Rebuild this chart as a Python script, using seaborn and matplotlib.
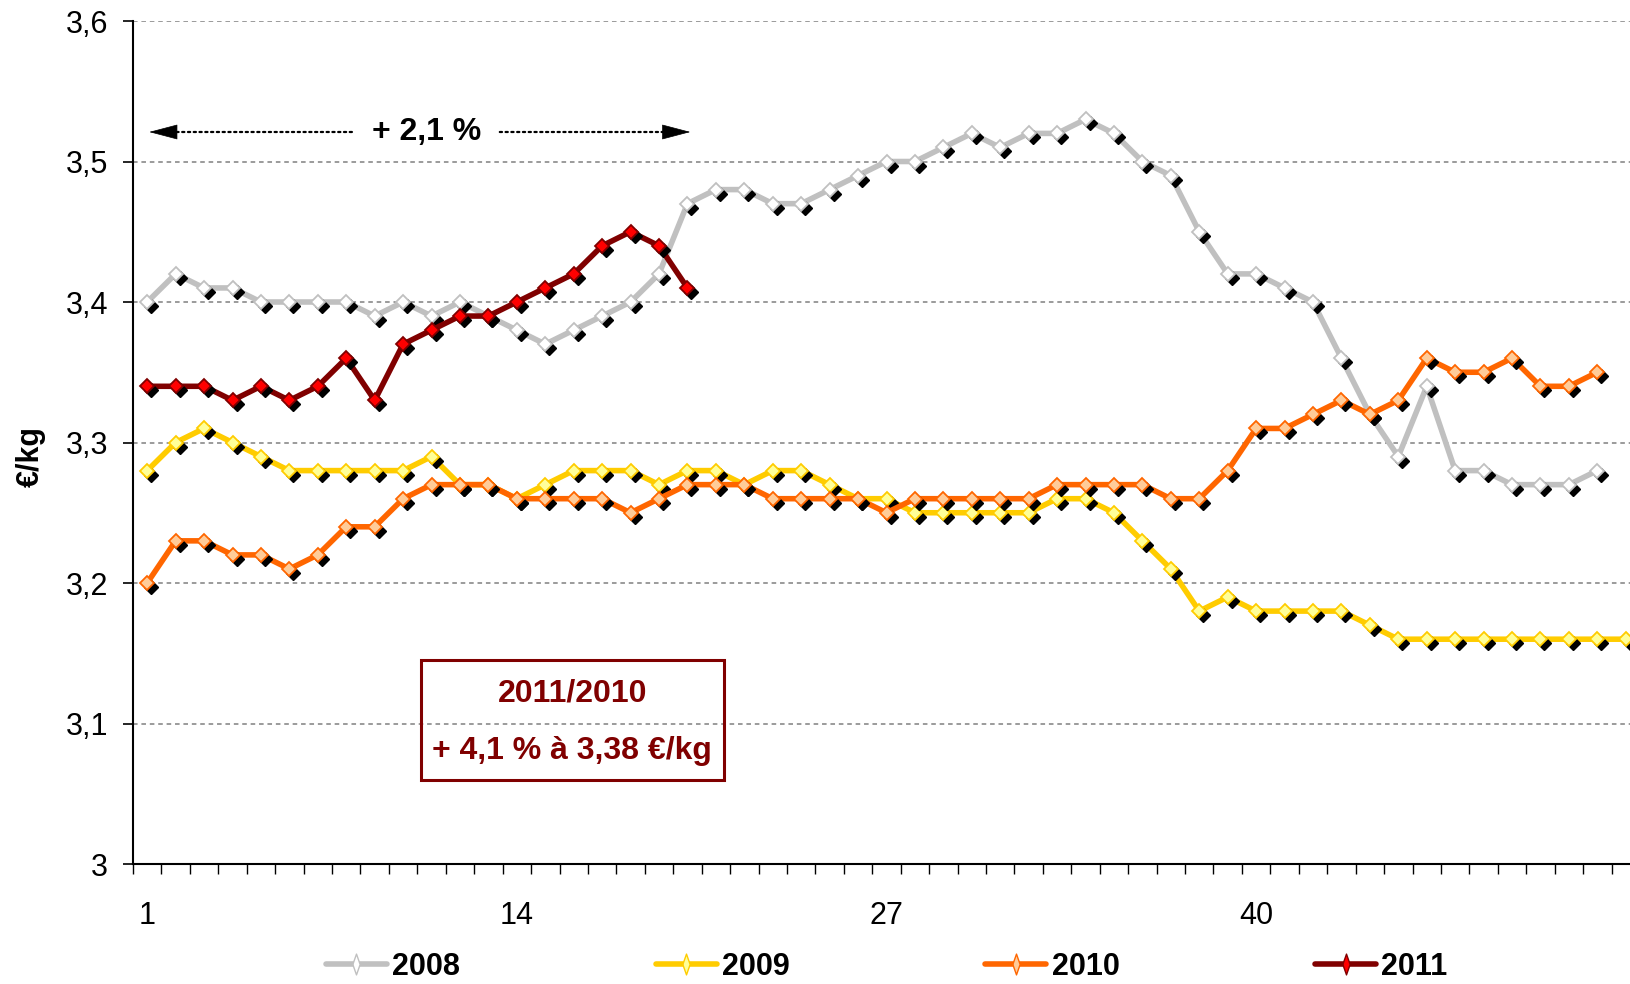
import numpy as np
import pandas as pd
import seaborn as sns
import matplotlib.pyplot as plt
from matplotlib.lines import Line2D
from matplotlib.patches import Rectangle
from matplotlib.transforms import offset_copy

# weekly price, EUR/kg
years = ['2008', '2009', '2010', '2011']

prix_2008 = [3.40, 3.42, 3.41, 3.41, 3.40, 3.40, 3.40, 3.40, 3.39, 3.40,
             3.39, 3.40, 3.39, 3.38, 3.37, 3.38, 3.39, 3.40, 3.42, 3.47,
             3.48, 3.48, 3.47, 3.47, 3.48, 3.49, 3.50, 3.50, 3.51, 3.52,
             3.51, 3.52, 3.52, 3.53, 3.52, 3.50, 3.49, 3.45, 3.42, 3.42,
             3.41, 3.40, 3.36, 3.32, 3.29, 3.34, 3.28, 3.28, 3.27, 3.27,
             3.27, 3.28]
prix_2009 = [3.28, 3.30, 3.31, 3.30, 3.29, 3.28, 3.28, 3.28, 3.28, 3.28,
             3.29, 3.27, 3.27, 3.26, 3.27, 3.28, 3.28, 3.28, 3.27, 3.28,
             3.28, 3.27, 3.28, 3.28, 3.27, 3.26, 3.26, 3.25, 3.25, 3.25,
             3.25, 3.25, 3.26, 3.26, 3.25, 3.23, 3.21, 3.18, 3.19, 3.18,
             3.18, 3.18, 3.18, 3.17, 3.16, 3.16, 3.16, 3.16, 3.16, 3.16,
             3.16, 3.16, 3.16]
prix_2010 = [3.20, 3.23, 3.23, 3.22, 3.22, 3.21, 3.22, 3.24, 3.24, 3.26,
             3.27, 3.27, 3.27, 3.26, 3.26, 3.26, 3.26, 3.25, 3.26, 3.27,
             3.27, 3.27, 3.26, 3.26, 3.26, 3.26, 3.25, 3.26, 3.26, 3.26,
             3.26, 3.26, 3.27, 3.27, 3.27, 3.27, 3.26, 3.26, 3.28, 3.31,
             3.31, 3.32, 3.33, 3.32, 3.33, 3.36, 3.35, 3.35, 3.36, 3.34,
             3.34, 3.35]
prix_2011 = [3.34, 3.34, 3.34, 3.33, 3.34, 3.33, 3.34, 3.36, 3.33, 3.37,
             3.38, 3.39, 3.39, 3.40, 3.41, 3.42, 3.44, 3.45, 3.44, 3.41]

series = [prix_2008, prix_2009, prix_2010, prix_2011]
line_colors = ['#C0C0C0', '#FFCC00', '#FF6600', '#800000']
face_colors = ['#FFFFFF', '#FFFF99', '#FFCC99', '#FF0000']

yticks = [3.0, 3.1, 3.2, 3.3, 3.4, 3.5, 3.6]
xlabels = [1, 14, 27, 40]

sns.set_style('white')
plt.rcParams['font.family'] = ['Liberation Sans', 'DejaVu Sans']
for k in ['text.color', 'axes.labelcolor', 'xtick.color', 'ytick.color']:
    plt.rcParams[k] = 'black'

fig = plt.figure(figsize=(16.3, 9.84), dpi=100)
ax = fig.add_axes([133 / 1630, 1 - 864 / 984, 1507 / 1630, 843 / 984])

shadow = offset_copy(ax.transData, fig=fig, x=4, y=-4, units='dots')

for i, (yr, vals) in enumerate(zip(years, series)):
    df = pd.DataFrame({'semaine': np.arange(1, len(vals) + 1), 'prix': vals})
    z = 3 + i
    sns.lineplot(data=df, x='semaine', y='prix', color=line_colors[i],
                 linewidth=4.0, ax=ax, zorder=z, legend=False)
    ax.plot(df.semaine, df.prix, ls='none', marker='D', ms=7.5,
            color='black', transform=shadow, zorder=z + 0.1)
    ax.plot(df.semaine, df.prix, ls='none', marker='D', ms=7.5,
            mfc=face_colors[i], mec=line_colors[i], mew=1.3, zorder=z + 0.2)

ax.set_xlim(0.5, 53.5)
ax.set_ylim(3.0, 3.6)
ax.set_yticks(yticks)
ax.set_yticklabels([('%g' % v).replace('.', ',') for v in yticks])
ax.set_xticks(np.arange(0.5, 54, 1))
ax.set_xticklabels([])
ax.set_xticks(xlabels, minor=True)
ax.set_xticklabels([str(v) for v in xlabels], minor=True)
ax.tick_params(axis='y', direction='out', length=7, width=1.2,
               labelsize=22, pad=11, left=True)
ax.tick_params(axis='x', which='major', direction='out', length=7,
               width=1.0, bottom=True)
ax.tick_params(axis='x', which='minor', length=0, labelsize=22, pad=27)
ax.set_xlabel('')
ax.set_ylabel('€/kg', fontsize=22, fontweight='bold')
ax.yaxis.set_label_coords(-0.058, 0.483)

ax.set_axisbelow(True)
ax.yaxis.grid(True, linestyle=(0, (3, 2.5)), color='#808080', lw=1.1)
ax.xaxis.grid(False)
sns.despine(ax=ax)
for s in ['left', 'bottom']:
    ax.spines[s].set_linewidth(1.5)
    ax.spines[s].set_color('black')

# +2,1 % arrow: dotted shaft + solid head
ax.text(10.83, 3.521, '+ 2,1 %', ha='center', va='center',
        fontsize=23, fontweight='bold')
dots = dict(arrowstyle='-', linestyle=(0, (1, 1.6)), lw=1.6,
            color='black', shrinkA=0, shrinkB=0)
head = dict(arrowstyle='-|>,head_length=1.9,head_width=0.5', lw=0.5,
            color='black', shrinkA=0, shrinkB=0)
ax.annotate('', xy=(1.5, 3.521), xytext=(8.2, 3.521), arrowprops=dots)
ax.annotate('', xy=(19.7, 3.521), xytext=(13.4, 3.521), arrowprops=dots)
ax.annotate('', xy=(1.07, 3.521), xytext=(1.95, 3.521), arrowprops=head)
ax.annotate('', xy=(20.1, 3.521), xytext=(19.2, 3.521), arrowprops=head)

# variation box
ax.add_patch(Rectangle((10.62, 3.06), 10.65, 0.085, fill=False,
                       edgecolor='#800000', lw=2.2, zorder=10))
ax.text(15.95, 3.1216, '2011/2010', ha='center', va='center',
        fontsize=23, fontweight='bold', color='#800000', zorder=11)
ax.text(15.95, 3.0807, '+ 4,1 % à 3,38 €/kg', ha='center', va='center',
        fontsize=23, fontweight='bold', color='#800000', zorder=11)

# legend
thin_diamond = [(-0.35, 0), (0, 1), (0.35, 0), (0, -1), (-0.35, 0)]
handles = [Line2D([0], [0], color=line_colors[i], lw=4.0, marker=thin_diamond,
                  ms=15, mfc=face_colors[i], mec=line_colors[i], mew=1.0)
           for i in range(4)]
fig.legend(handles, years, loc='center', bbox_to_anchor=(0.544, 0.0173),
           ncol=4, frameon=False, prop={'weight': 'bold', 'size': 22},
           handlelength=2.0, handletextpad=0.17, columnspacing=6.4)

fig.savefig('out.png', dpi=100)
